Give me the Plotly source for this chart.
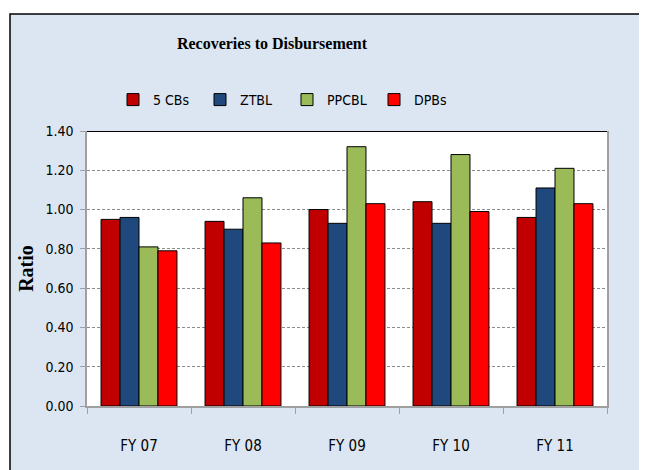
import plotly.graph_objects as go

# Datos
anios = ["FY 07", "FY 08", "FY 09", "FY 10", "FY 11"]
cbs5 = [0.95, 0.94, 1.00, 1.04, 0.96]
ztbl = [0.96, 0.90, 0.93, 0.93, 1.11]
ppcbl = [0.81, 1.06, 1.32, 1.28, 1.21]
dpbs = [0.79, 0.83, 1.03, 0.99, 1.03]

series = [
    ("5 CBs", cbs5, "#C00000"),
    ("ZTBL", ztbl, "#1F497D"),
    ("PPCBL", ppcbl, "#9BBB59"),
    ("DPBs", dpbs, "#FF0000"),
]

fuente = "DejaVu Sans Condensed, Liberation Sans Narrow, Liberation Sans, sans-serif"
serif = "Liberation Serif, Times New Roman, serif"

# la página añade 8px de margen al cuerpo, así que restamos 8 a todo
W, H = 639, 462
izq, der, arr, aba = 79, 40, 123, 64
ancho_plot = W - izq - der
alto_plot = H - arr - aba

fig = go.Figure()
for nombre, valores, color in series:
    fig.add_trace(go.Bar(
        x=anios,
        y=valores,
        name=nombre,
        marker=dict(color=color, line=dict(color="black", width=1)),
    ))

fig.update_layout(
    width=W,
    height=H,
    margin=dict(l=izq, r=der, t=arr, b=aba),
    paper_bgcolor="white",
    plot_bgcolor="white",
    barmode="group",
    bargap=0.27,
    bargroupgap=0,
    title=dict(
        text="<b>Recoveries to Disbursement</b>",
        x=(272 - 8) / W, xanchor="center",
        y=1 - (43 - 8) / H, yanchor="middle",
        font=dict(family=serif, size=16, color="black"),
    ),
    legend=dict(
        orientation="h",
        x=(287 - 8 - izq) / ancho_plot, xanchor="center",
        y=(H - aba - (100 - 8)) / alto_plot, yanchor="middle",
        font=dict(family=fuente, size=14, color="black"),
        bgcolor="rgba(0,0,0,0)",
        entrywidth=42,
        itemwidth=30,
    ),
    font=dict(family=fuente, color="black"),
    shapes=[
        # fondo azul claro con borde del gráfico
        dict(type="rect", xref="paper", yref="paper", layer="below",
             x0=(2 - izq) / ancho_plot, x1=1.3, y0=-0.4,
             y1=(H - aba - 6) / alto_plot,
             fillcolor="#DCE6F2", line=dict(color="black", width=1.5)),
        # área de trazado blanca
        dict(type="rect", xref="paper", yref="paper", layer="below",
             x0=0, x1=1, y0=0, y1=1, fillcolor="white", line=dict(width=0)),
        # línea superior negra
        dict(type="line", xref="paper", yref="y", x0=0, x1=1, y0=1.4, y1=1.4,
             line=dict(color="black", width=2)),
    ],
)

fig.update_yaxes(
    range=[0, 1.4],
    dtick=0.2,
    tickformat=".2f",
    showgrid=True,
    gridcolor="#8C8C8C",
    griddash="3px,2px",
    gridwidth=1,
    showline=True,
    linecolor="#A0A0A0",
    linewidth=1.5,
    mirror=True,
    ticks="outside",
    ticklen=5,
    tickcolor="#A0A0A0",
    ticklabelstandoff=4,
    tickfont=dict(family=fuente, size=14, color="black"),
    title=dict(text="<b>Ratio</b>", font=dict(family=serif, size=20, color="black"), standoff=6),
    zeroline=False,
)

fig.update_xaxes(
    showline=True,
    linecolor="#A0A0A0",
    linewidth=1.5,
    ticks="outside",
    tickson="boundaries",
    ticklen=6,
    tickcolor="#A0A0A0",
    ticklabelstandoff=25,
    tickfont=dict(family=fuente, size=15, color="black"),
)

fig.write_html("out.html")
